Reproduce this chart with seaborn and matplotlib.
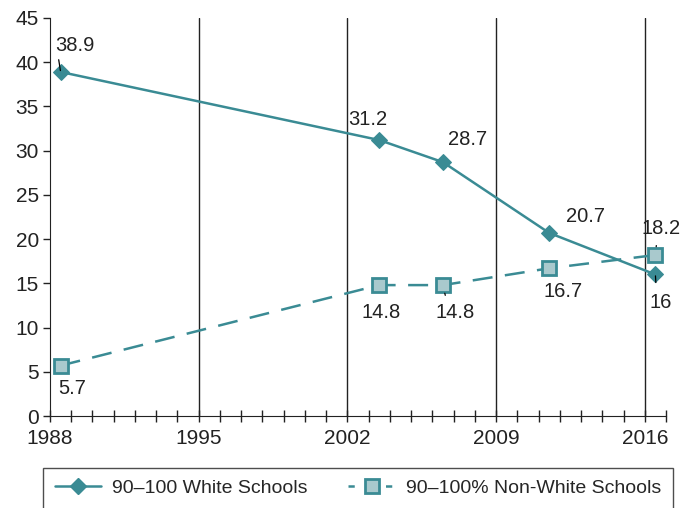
import matplotlib
matplotlib.use("Agg")
import matplotlib.pyplot as plt
import seaborn as sns
import pandas as pd
from matplotlib.lines import Line2D

# School years (plotted at mid-year)
years = [1988.5, 2003.5, 2006.5, 2011.5, 2016.5]
white_schools = [38.9, 31.2, 28.7, 20.7, 16.0]
nonwhite_schools = [5.7, 14.8, 14.8, 16.7, 18.2]
white_labels = ["38.9", "31.2", "28.7", "20.7", "16"]
nonwhite_labels = ["5.7", "14.8", "14.8", "16.7", "18.2"]
series_names = ["90–100 White Schools", "90–100% Non-White Schools"]
x_ticks = [1988, 1995, 2002, 2009, 2016]
y_ticks = [0, 5, 10, 15, 20, 25, 30, 35, 40, 45]

teal = "#3a8b94"
light = "#a9c9cd"
ink = "#222222"

sns.set_style("ticks")
plt.rcParams["font.family"] = ["Liberation Sans", "DejaVu Sans"]

df = pd.DataFrame({"year": years, "white": white_schools, "nonwhite": nonwhite_schools})

fig = plt.figure(figsize=(6.82, 5.08), dpi=100)
ax = fig.add_axes([50 / 682, 1 - 416 / 508, 616 / 682, 398 / 508])

# vertical reference lines
for xv in x_ticks[1:]:
    ax.axvline(xv, color=ink, lw=1.0, zorder=1)

sns.lineplot(data=df, x="year", y="white", ax=ax, color=teal, lw=1.8,
             marker="D", markersize=8, markerfacecolor=teal, markeredgecolor=teal,
             zorder=3)
sns.lineplot(data=df, x="year", y="nonwhite", ax=ax, color=teal, lw=1.8,
             linestyle=(0, (8, 5)), marker="s", markersize=10,
             markerfacecolor=light, markeredgecolor=teal, markeredgewidth=2,
             zorder=3)

ax.set_xlim(1988, 2017)
ax.set_ylim(0, 45)
ax.set_xticks(x_ticks)
ax.set_xticks(range(1988, 2018), minor=True)
ax.set_yticks(y_ticks)
ax.set_xlabel("")
ax.set_ylabel("")
ax.tick_params(axis="x", which="both", direction="inout", length=9, width=1,
               colors=ink, labelsize=15, pad=5)
ax.tick_params(axis="y", direction="out", length=5, width=1, colors=ink,
               labelsize=15, pad=3)
sns.despine(ax=ax)
ax.spines["left"].set_color(ink)
ax.spines["bottom"].set_color(ink)

# value labels: offset (points), and optional leader (relpos, shrinkA, shrinkB)
white_offsets = [(10, 19), (-8, 15), (18, 16), (26, 12), (4, -20)]
nonwhite_offsets = [(8.5, -16.5), (1.5, -19.5), (8.5, -19.5), (10, -17), (4, 19)]
leaders = {
    ("w", 0): ((0.08, 0.0), 1, 1),
    ("w", 4): ((0.3, 1.0), 5, 1),
    ("n", 2): ((0.3, 1.0), 3, 6),
    ("n", 4): ((0.4, 0.0), 3, 6),
}

def put_labels(vals, texts, offsets, key):
    for i, (xv, yv, txt, off) in enumerate(zip(years, vals, texts, offsets)):
        props = None
        if (key, i) in leaders:
            rp, sa, sb = leaders[(key, i)]
            props = dict(arrowstyle="-", color="black", lw=0.9, relpos=rp,
                         shrinkA=sa, shrinkB=sb)
        ax.annotate(txt, (xv, yv), xytext=off, textcoords="offset points",
                    ha="center", va="center", fontsize=14.5, color=ink,
                    arrowprops=props, zorder=4)

put_labels(white_schools, white_labels, white_offsets, "w")
put_labels(nonwhite_schools, nonwhite_labels, nonwhite_offsets, "n")

handles = [
    Line2D([], [], color=teal, lw=1.8, marker="D", markersize=8,
           markerfacecolor=teal, markeredgecolor=teal),
    Line2D([], [], color=teal, lw=1.8, linestyle=(0, (2.5, 5)), marker="s",
           markersize=10, markerfacecolor=light, markeredgecolor=teal,
           markeredgewidth=2),
]
leg = fig.legend(handles, series_names, loc="upper left",
                 bbox_to_anchor=(43 / 682, 1 - 468 / 508), ncol=2,
                 frameon=True, fancybox=False, edgecolor=ink,
                 fontsize=14, handlelength=2.4, handletextpad=0.55,
                 columnspacing=2.1, borderpad=0.6, borderaxespad=0)
leg.get_frame().set_linewidth(1.0)

fig.savefig("out.png", dpi=100)
